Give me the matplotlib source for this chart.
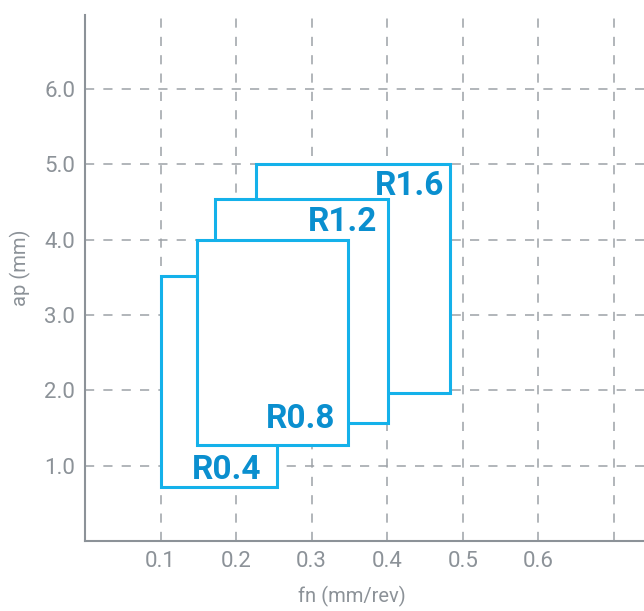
import matplotlib.pyplot as plt
from matplotlib.patches import Rectangle

# tool radius -> (fn_min, fn_max, ap_min, ap_max)
labels = ["R1.6", "R1.2", "R0.4", "R0.8"]
fn_min = [0.226, 0.172, 0.10, 0.148]
fn_max = [0.483, 0.401, 0.254, 0.348]
ap_min = [1.97, 1.56, 0.72, 1.28]
ap_max = [5.0, 4.54, 3.52, 4.0]
corner = ["top", "top", "bottom", "bottom"]

xticks = [0.1, 0.2, 0.3, 0.4, 0.5, 0.6, 0.7]
xticklabels = ["0.1", "0.2", "0.3", "0.4", "0.5", "0.6", ""]
yticks = [1.0, 2.0, 3.0, 4.0, 5.0, 6.0]

edge = "#14b1ea"
txt = "#0a8fcf"
gray = "#8c9298"
fam = ["Roboto", "DejaVu Sans"]

fig = plt.figure(figsize=(6.44, 6.11), dpi=100)
ax = fig.add_axes([85/644, 70/611, 1 - 85/644, (541 - 15)/611])

offsets = {"R1.6": (-6, -6), "R1.2": (-11, -7), "R0.8": (-13, 17), "R0.4": (-15, 8)}
for i, lab in enumerate(labels):
    r = Rectangle((fn_min[i], ap_min[i]), fn_max[i] - fn_min[i], ap_max[i] - ap_min[i],
                  facecolor="white", edgecolor=edge, lw=2.2, zorder=3 + i)
    ax.add_patch(r)
    if corner[i] == "top":
        xy = (fn_max[i], ap_max[i]); va = "top"
    else:
        xy = (fn_max[i], ap_min[i]); va = "baseline"
    ax.annotate(lab, xy=xy, xytext=offsets[lab], textcoords="offset pixels",
                ha="right", va=va, color=txt, fontsize=24,
                family=fam, weight="bold", zorder=10 + i)

ax.set_xlim(0, 0.74)
ax.set_ylim(0, 6.98)
ax.set_xticks(xticks)
ax.set_xticklabels(xticklabels)
ax.set_yticks(yticks)
ax.set_yticklabels(["%.1f" % y for y in yticks])
ax.tick_params(length=0, pad=7, labelsize=16, labelcolor=gray)
for t in ax.get_xticklabels() + ax.get_yticklabels():
    t.set_family(fam)
ax.grid(True, color="#9da2a7", ls=(0, (6, 6)), lw=1.1)
ax.set_axisbelow(True)
for s in ["top", "right"]:
    ax.spines[s].set_visible(False)
for s in ["left", "bottom"]:
    ax.spines[s].set_color(gray)
    ax.spines[s].set_linewidth(1.5)
ax.set_xlabel("fn (mm/rev)", fontsize=14.5, color=gray, family=fam)
ax.set_ylabel("ap (mm)", fontsize=14.5, color=gray, family=fam)
ax.xaxis.set_label_coords(0.478, -0.085)
ax.yaxis.set_label_coords(-0.097, 0.52)

fig.savefig("out.png", dpi=100)
